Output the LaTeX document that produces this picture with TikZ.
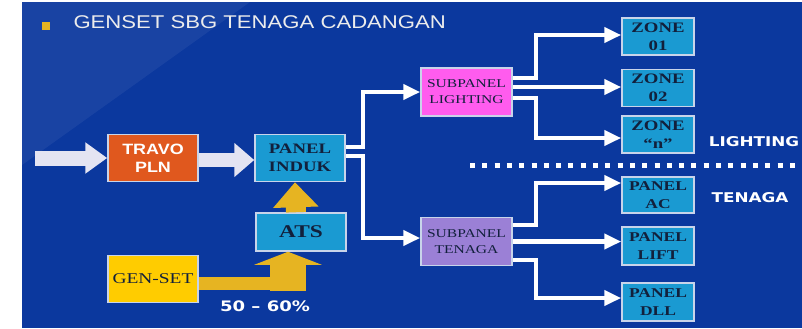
\documentclass[tikz,border=0pt]{standalone}
\usepackage{fontspec}
\setmainfont{Liberation Serif}[FakeStretch=1.3]
\setsansfont{Liberation Sans}[FakeStretch=1.2]
\newfontfamily\sidefont{DejaVu Sans}[FakeStretch=1.25, Ligatures=TeX]
\usetikzlibrary{arrows.meta}

\definecolor{slideblue}{HTML}{0B389E}
\definecolor{boxline}{HTML}{C8D4EA}
\definecolor{boxtext}{HTML}{12203C}
\definecolor{travoorange}{HTML}{E0581E}
\definecolor{panelcyan}{HTML}{1A9AD2}
\definecolor{gensetyellow}{HTML}{FFCC00}
\definecolor{arrowgold}{HTML}{E6B422}
\definecolor{sublightpink}{HTML}{FF5CEE}
\definecolor{subtenlilac}{HTML}{9B80D6}
\definecolor{feedgrey}{HTML}{E4E4F2}
\definecolor{titlegrey}{HTML}{ECECEC}

\begin{document}
\begin{tikzpicture}[x=1bp,y=1bp,
  box/.style={draw=boxline, line width=1.5bp, fill=panelcyan, inner sep=1bp,
    minimum width=90bp, minimum height=47bp, align=center, text=boxtext,
    font=\bfseries\fontsize{14.5}{18}\selectfont},
  subbox/.style={box, minimum width=91bp, minimum height=48bp,
    font=\fontsize{12}{16}\selectfont},
  leafbox/.style={box, minimum width=72bp, minimum height=37bp,
    font=\bfseries\fontsize{14.5}{18}\selectfont},
  side/.style={text=white, font=\sidefont\bfseries\fontsize{13.5}{16}\selectfont},
  wire/.style={draw=white, line width=4.5bp, -{Triangle[length=17bp,width=15bp]}},
  fat/.style={draw=feedgrey},
  gold/.style={draw=arrowgold}]
\useasboundingbox (0,0) rectangle (802,-328);
\fill[slideblue] (22,-2) rectangle (802,-328);
\fill[white, opacity=0.06] (22,-2) -- (250,-2) -- (22,-165) -- cycle;

% title
\node[fill=arrowgold, minimum size=8bp, inner sep=0pt] (bullet) at (46,-26) {};
\node[anchor=base west, text=titlegrey, font=\sffamily\fontsize{18.5}{22}\selectfont] (title) at (70,-28) {GENSET SBG TENAGA CADANGAN};

% supply side
\coordinate (feed) at (35,-158);
\node[box, fill=travoorange, text=white, font=\sffamily\bfseries\fontsize{15}{18}\selectfont] (travo) at (153,-158) {TRAVO\\PLN};
\node[box] (induk) at (300,-158) {PANEL\\INDUK};
\node[box, minimum height=38bp, font=\bfseries\fontsize{18}{20}\selectfont] (ats) at (301,-232) {ATS};
\node[box, fill=gensetyellow, font=\fontsize{15}{18}\selectfont] (genset) at (153,-279) {GEN-SET};
\node[side, font=\sidefont\bfseries\fontsize{14.5}{16}\selectfont] (ratio) at (265,-306) {50 – 60\%};

% sub panels
\node[subbox, fill=sublightpink] (sublight) at (466.5,-92) {SUBPANEL\\LIGHTING};
\node[subbox, fill=subtenlilac] (subten) at (466.5,-241.5) {SUBPANEL\\TENAGA};

% loads
\node[leafbox] (zone1) at (658,-36.5) {ZONE\\01};
\node[leafbox] (zone2) at (658,-88) {ZONE\\02};
\node[leafbox] (zonen) at (658,-134.5) {ZONE\\“n”};
\node[leafbox, minimum height=36bp, font=\bfseries\fontsize{13.5}{18}\selectfont] (pac) at (658,-195) {PANEL\\AC};
\node[leafbox, minimum height=38bp, font=\bfseries\fontsize{13.5}{18}\selectfont] (plift) at (658,-246) {PANEL\\LIFT};
\node[leafbox, minimum height=38bp, font=\bfseries\fontsize{13.5}{18}\selectfont] (pdll) at (658,-302) {PANEL\\DLL};

\node[side] (lighting) at (754,-142) {LIGHTING};
\node[side] (tenaga) at (750,-198) {TENAGA};
\coordinate (sepL) at (470,-165);
\coordinate (sepR) at (802,-165);
\draw[white, line width=5bp, dash pattern=on 5bp off 7.3bp] (sepL) -- (sepR);

% fat arrows
\draw[fat, line width=15bp, -{Triangle[length=22bp,width=30bp]}] (feed) -- (feed -| travo.west);
\draw[fat, line width=14bp, -{Triangle[length=20bp,width=33bp]}] ([yshift=-2bp]travo.east) -- ([yshift=-2bp]induk.west);
\draw[gold, line width=20bp, -{Triangle[length=25bp,width=44bp]}] ([xshift=-5bp]ats.north) -- ([xshift=-5bp]induk.south);
\draw[gold, line width=13bp] ([yshift=-4.5bp]genset.east) -- ++(107,0);
\draw[gold, line width=36bp, -{Triangle[length=13bp,width=67bp]}] ([xshift=-13bp,yshift=-39bp]ats.south) -- ([xshift=-13bp]ats.south);

% wires
\draw[wire] ([yshift=11bp]induk.east) -- ++(17,0) |- (sublight.west);
\draw[wire] ([yshift=2bp]induk.east) -- ++(17,0) |- ([yshift=3.5bp]subten.west);
\draw[wire] ([yshift=14bp]sublight.east) -- ++(23,0) |- ([yshift=1.5bp]zone1.west);
\draw[wire] ([yshift=5bp]sublight.east) -- ([yshift=5bp]sublight.east -| zone2.west);
\draw[wire] ([yshift=-6bp]sublight.east) -- ++(23,0) |- ([yshift=-3.5bp]zonen.west);
\draw[wire] ([yshift=16.5bp]subten.east) -- ++(23,0) |- ([yshift=12bp]pac.west);
\draw[wire] (subten.east) -- (subten.east -| plift.west);
\draw[wire] ([yshift=-18.5bp]subten.east) -- ++(23,0) |- ([yshift=4bp]pdll.west);
\end{tikzpicture}
\end{document}
